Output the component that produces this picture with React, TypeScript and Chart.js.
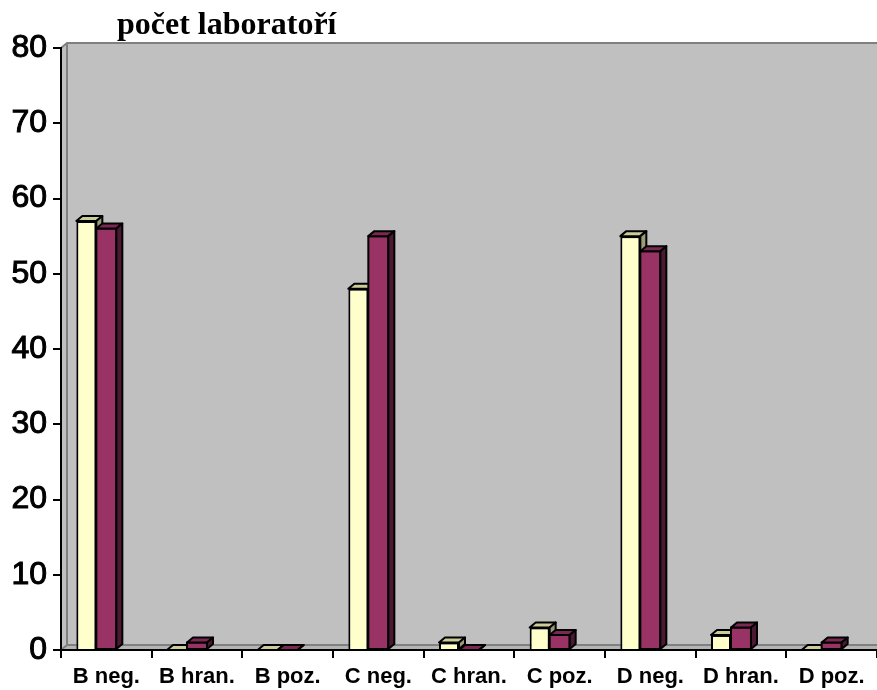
import React, { useEffect, useRef } from "react";
import { Chart, registerables } from "chart.js";

Chart.register(...registerables);

const categories = ["B neg.", "B hran.", "B poz.", "C neg.", "C hran.", "C poz.", "D neg.", "D hran.", "D poz."];
const series1Values = [57, 0, 0, 48, 1, 3, 55, 2, 0];
const series2Values = [56, 1, 0, 55, 0, 2, 53, 3, 1];
const spacerValues = [null, null, null, null, null, null, null, null, null];
const yMin = 0;
const yMax = 80;
const yStep = 10;
const titleText = "počet laboratoří";

const faceColors = [
  { front: "#FFFFCC", top: "#CCCC99", side: "#9C9C72" },
  { front: "#993366", top: "#7A2952", side: "#4C1933" },
];

const DX = 6;
const DY = 5;

function poly(ctx: CanvasRenderingContext2D, pts: number[][], fill: string) {
  ctx.beginPath();
  ctx.moveTo(pts[0][0], pts[0][1]);
  for (let i = 1; i < pts.length; i++) ctx.lineTo(pts[i][0], pts[i][1]);
  ctx.closePath();
  ctx.fillStyle = fill;
  ctx.fill();
  ctx.strokeStyle = "#000";
  ctx.lineWidth = 2;
  ctx.lineJoin = "round";
  ctx.stroke();
}

const wallPlugin = {
  id: "wall3d",
  beforeDraw(chart: any) {
    const { ctx, chartArea } = chart;
    const { left, right, top, bottom } = chartArea;
    ctx.save();
    ctx.fillStyle = "#C0C0C0";
    ctx.beginPath();
    ctx.moveTo(left, top);
    ctx.lineTo(left + DX, top - DY);
    ctx.lineTo(left + DX, bottom - DY);
    ctx.lineTo(left, bottom);
    ctx.closePath();
    ctx.fill();
    ctx.fillRect(left + DX, top - DY, right - left, bottom - top);
    ctx.beginPath();
    ctx.moveTo(left, bottom);
    ctx.lineTo(left + DX, bottom - DY);
    ctx.lineTo(right + DX, bottom - DY);
    ctx.lineTo(right, bottom);
    ctx.closePath();
    ctx.fillStyle = "#B4B4B4";
    ctx.fill();
    ctx.strokeStyle = "#808080";
    ctx.lineWidth = 2;
    ctx.beginPath();
    ctx.moveTo(left, top);
    ctx.lineTo(left + DX, top - DY);
    ctx.lineTo(right + DX, top - DY);
    ctx.moveTo(left + DX, top - DY);
    ctx.lineTo(left + DX, bottom - DY);
    ctx.lineTo(right + DX, bottom - DY);
    ctx.moveTo(left + DX, bottom - DY);
    ctx.lineTo(left, bottom);
    ctx.stroke();
    ctx.restore();
  },
};

const barPlugin = {
  id: "bar3d",
  afterDatasetsDraw(chart: any) {
    const ctx = chart.ctx as CanvasRenderingContext2D;
    const metas = [chart.getDatasetMeta(0), chart.getDatasetMeta(1)];
    ctx.save();
    for (let i = 0; i < categories.length; i++) {
      metas.forEach((meta: any, d: number) => {
        const el = meta.data[i];
        if (!el) return;
        const { x, y, base, width } = el.getProps(["x", "y", "base", "width"], true);
        const l = x - width / 2;
        const r = x + width / 2;
        const c = faceColors[d];
        if (d === 1) {
          poly(ctx, [[l, y], [r, y], [r, base], [l, base]], c.front);
        }
        poly(ctx, [[l, y], [l + DX, y - DY], [r + DX, y - DY], [r, y]], c.top);
        poly(ctx, [[r, y], [r + DX, y - DY], [r + DX, base - DY], [r, base]], c.side);
      });
    }
    ctx.restore();
  },
};

const titlePlugin = {
  id: "titleText",
  afterDraw(chart: any) {
    const ctx = chart.ctx as CanvasRenderingContext2D;
    ctx.save();
    ctx.font = 'bold 32px "Liberation Serif", "Times New Roman", serif';
    ctx.fillStyle = "#000";
    ctx.textAlign = "left";
    ctx.textBaseline = "alphabetic";
    ctx.fillText(titleText, 117, 34);
    ctx.restore();
  },
};

export default function App() {
  const canvasRef = useRef<HTMLCanvasElement | null>(null);

  useEffect(() => {
    document.body.style.margin = "0";
    const canvas = canvasRef.current;
    if (!canvas) return;
    const chart = new Chart(canvas, {
      type: "bar",
      data: {
        labels: categories,
        datasets: [
          {
            label: "série 1",
            data: series1Values,
            backgroundColor: faceColors[0].front,
            borderColor: "#000",
            borderWidth: 2,
          },
          {
            label: "série 2",
            data: series2Values,
            backgroundColor: faceColors[1].front,
            borderColor: "#000",
            borderWidth: 2,
          },
          {
            label: "",
            data: spacerValues,
            backgroundColor: "rgba(0,0,0,0)",
            borderWidth: 0,
          },
        ],
      },
      options: {
        animation: false,
        responsive: true,
        maintainAspectRatio: false,
        layout: { padding: { top: 48, left: 0, right: 0, bottom: 0 } },
        datasets: {
          bar: { categoryPercentage: 60 / 90.67, barPercentage: 1 },
        },
        plugins: {
          legend: { display: false },
          title: { display: false },
          tooltip: { enabled: false },
        },
        scales: {
          x: {
            afterFit: (s: any) => {
              s.height = 40;
            },
            grid: {
              offset: true,
              drawOnChartArea: false,
              drawTicks: true,
              tickLength: 8,
              color: "#000",
              lineWidth: 2,
            },
            border: { display: true, color: "#000", width: 2 },
            ticks: {
              color: "#000",
              padding: 6,
              font: { family: "Arial, 'Liberation Sans', sans-serif", size: 22, weight: "bold" },
              maxRotation: 0,
              autoSkip: false,
            },
          },
          y: {
            min: yMin,
            max: yMax,
            afterFit: (s: any) => {
              s.width = 61;
            },
            grid: {
              drawOnChartArea: false,
              drawTicks: true,
              tickLength: 8,
              color: "#000",
              lineWidth: 2,
            },
            border: { display: true, color: "#000", width: 2 },
            ticks: {
              stepSize: yStep,
              color: "#000",
              padding: 6,
              textStrokeColor: "#000",
              textStrokeWidth: 1,
              font: { family: "Arial, 'Liberation Sans', sans-serif", size: 32 },
            },
          },
        },
      },
      plugins: [wallPlugin, barPlugin, titlePlugin],
    });
    return () => chart.destroy();
  }, []);

  return (
    <div style={{ position: "relative", width: "877px", height: "690px" }}>
      <canvas ref={canvasRef} />
    </div>
  );
}
